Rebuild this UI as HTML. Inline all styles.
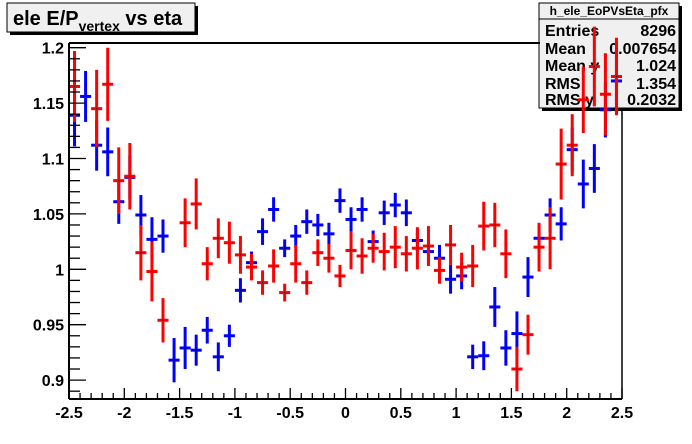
<!DOCTYPE html>
<html><head><meta charset="utf-8"><style>
body{margin:0;background:#fff;}
svg{display:block;font-family:"Liberation Sans",Arial,sans-serif;}
</style></head><body>
<svg id="c" width="692" height="444" viewBox="0 0 692 444">
<rect x="0" y="0" width="692" height="444" fill="#fff"/>
<g>
<rect x="10" y="6" width="188" height="29" fill="#000"/>
<rect x="7" y="3" width="188" height="29" fill="#f0f0f0" stroke="#000" stroke-width="1"/>
<text x="13" y="25" font-size="20" font-weight="bold">ele E/P<tspan font-size="14" dy="6">vertex</tspan><tspan dy="-6"> vs eta</tspan></text>
</g>
<g>
<rect x="542" y="6" width="140" height="105" fill="#000"/>
<rect x="539" y="3" width="140" height="105" fill="#f0f0f0" stroke="#000" stroke-width="1"/>
<line x1="539" y1="19" x2="679" y2="19" stroke="#000"/>
<text x="609" y="15" font-size="12" text-anchor="middle" font-weight="bold">h_ele_EoPVsEta_pfx</text>
<g font-size="16" font-weight="bold">
<text x="545" y="36">Entries</text><text x="676" y="36" text-anchor="end">8296</text>
<text x="545" y="54">Mean</text><text x="676" y="54" text-anchor="end">0.007654</text>
<text x="545" y="71">Mean y</text><text x="676" y="71" text-anchor="end">1.024</text>
<text x="545" y="89">RMS</text><text x="676" y="89" text-anchor="end">1.354</text>
<text x="545" y="105">RMS y</text><text x="676" y="105" text-anchor="end">0.2032</text>
</g>
</g>
<g id="plot"></g>
</svg>
<script>
const binCenters=[-2.45,-2.35,-2.25,-2.15,-2.05,-1.95,-1.85,-1.75,-1.65,-1.55,-1.45,-1.35,-1.25,-1.15,-1.05,-0.95,-0.85,-0.75,-0.65,-0.55,-0.45,-0.35,-0.25,-0.15,-0.05,0.05,0.15,0.25,0.35,0.45,0.55,0.65,0.75,0.85,0.95,1.05,1.15,1.25,1.35,1.45,1.55,1.65,1.75,1.85,1.95,2.05,2.15,2.25,2.35,2.45];
const blueValues=[1.139,1.156,1.112,1.106,1.061,1.083,1.049,1.027,1.030,0.918,0.929,0.927,0.945,0.921,0.940,0.981,1.006,1.034,1.054,1.019,1.030,1.043,1.040,1.032,1.062,1.045,1.054,1.025,1.051,1.058,1.051,1.026,1.016,1.010,0.991,0.994,0.921,0.922,0.966,0.929,0.942,0.993,1.028,1.049,1.041,1.108,1.077,1.091,1.144,1.17];
const blueErrors=[0.028,0.023,0.023,0.022,0.02,0.02,0.018,0.02,0.015,0.02,0.019,0.014,0.012,0.013,0.01,0.011,0.01,0.012,0.011,0.008,0.01,0.011,0.01,0.01,0.011,0.011,0.011,0.01,0.011,0.011,0.012,0.01,0.01,0.012,0.013,0.012,0.011,0.013,0.018,0.016,0.02,0.018,0.012,0.015,0.015,0.02,0.022,0.022,0.025,0.03];
const redValues=[1.165,null,1.145,1.167,1.080,1.084,1.015,0.998,0.954,null,1.042,1.059,1.005,1.028,1.024,1.013,1.002,0.988,1.003,0.979,1.005,0.988,1.015,1.010,0.994,1.017,1.012,1.019,1.016,1.020,1.014,1.019,1.021,0.999,1.022,1.002,1.003,1.039,1.040,1.014,0.910,0.941,1.020,1.028,1.095,1.112,1.153,1.183,1.158,1.174];
const redErrors=[0.032,0,0.035,0.033,0.03,0.03,0.025,0.027,0.02,0,0.022,0.023,0.015,0.018,0.019,0.017,0.012,0.011,0.015,0.008,0.017,0.011,0.012,0.013,0.01,0.017,0.016,0.013,0.017,0.019,0.016,0.019,0.018,0.012,0.018,0.013,0.019,0.022,0.02,0.022,0.02,0.018,0.022,0.028,0.032,0.028,0.03,0.036,0.037,0.035];
const xTickLabels=["-2.5","-2","-1.5","-1","-0.5","0","0.5","1","1.5","2","2.5"];
const yTickLabels=["0.9","0.95","1","1.05","1.1","1.15","1.2"];
const X0=69,X1=622,Y0=399,Y1=43;
const xmin=-2.5,xmax=2.5;
function sx(v){return X0+(v-xmin)/(xmax-xmin)*(X1-X0);}
function sy(v){return 269.3-(v-1)*1108;}
const NS="http://www.w3.org/2000/svg";
const g=document.getElementById('plot');
function mk(tag,attrs,parent){const e=document.createElementNS(NS,tag);for(const k in attrs)e.setAttribute(k,attrs[k]);(parent||g).appendChild(e);return e;}
// frame
const fr=mk('g',{});


mk('line',{x1:X0,x2:540,y1:Y1,y2:Y1,stroke:'#000','stroke-width':2},fr);
mk('line',{x1:X1,x2:X1,y1:108,y2:Y0,stroke:'#000','stroke-width':1.5},fr);
function drawSeries(vals,errs,color,name){
  const sg=mk('g',{});
  
  
  const hw=(sx(0.1)-sx(0))/2;
  vals.forEach((v,i)=>{
    if(v===null)return;
    const cx=sx(binCenters[i]),cy=sy(v);
    const p=mk('g',{},sg);
    
    
    mk('line',{x1:cx,x2:cx,y1:sy(v+errs[i]),y2:sy(v-errs[i]),stroke:color,'stroke-width':3},p);
    mk('line',{x1:cx-hw,x2:cx+hw,y1:cy,y2:cy,stroke:color,'stroke-width':3},p);
    mk('rect',{x:cx-0.5,y:cy-0.5,width:1,height:1,fill:'#000'},p);
  });
}
drawSeries(blueValues,blueErrors,'#0000ff','blue');
drawSeries(redValues,redErrors,'#ff0000','red');
// axes
const xa=mk('g',{});


mk('line',{x1:X0,x2:X1,y1:Y0,y2:Y0,stroke:'#000','stroke-width':2},xa);
for(let k=0;k<=50;k++){const v=xmin+k*0.1;const x=sx(v);const major=k%5===0;
  mk('line',{x1:x,x2:x,y1:Y0,y2:Y0-(major?11:6),stroke:'#000','stroke-width':1.3},xa);}
xTickLabels.forEach(t=>{const tx=mk('text',{x:sx(parseFloat(t)),y:418,'font-size':16,'font-weight':'bold','text-anchor':'middle'},xa);tx.textContent=t;
  
  });
const ya=mk('g',{});


mk('line',{x1:X0,x2:X0,y1:Y1,y2:Y0,stroke:'#000','stroke-width':2},ya);
for(let k=0;;k++){const v=0.89+k*0.01;const y=sy(v);if(y<Y1)break;if(y>Y0)continue;const major=Math.round(v*100)%5===0;
  mk('line',{x1:X0,x2:X0+(major?17:11),y1:y,y2:y,stroke:'#000','stroke-width':1.3},ya);}
yTickLabels.forEach(t=>{const tx=mk('text',{x:64,y:sy(parseFloat(t))+6,'font-size':16,'font-weight':'bold','text-anchor':'end'},ya);tx.textContent=t;
  
  });
</script>
</body></html>
